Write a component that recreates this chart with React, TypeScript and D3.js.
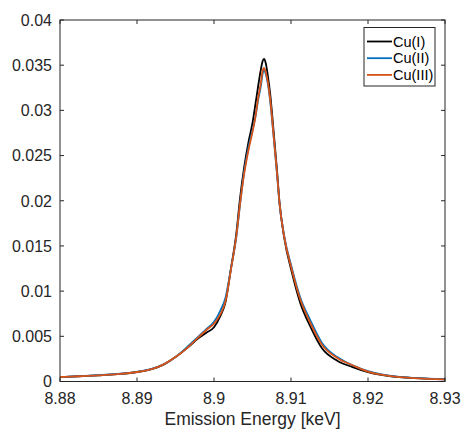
import React, { useEffect, useRef } from "react";
import * as d3 from "d3";

// emission energy grid (keV) shared by the three spectra
const energy = [
  8.88, 8.8825, 8.885, 8.8875, 8.89, 8.892, 8.8935, 8.895, 8.8965, 8.898,
  8.899, 8.9, 8.9008, 8.9015, 8.9022, 8.9029, 8.9034, 8.9039, 8.9045, 8.905,
  8.9054, 8.9057, 8.9061, 8.9063, 8.9065, 8.9067, 8.907, 8.9073, 8.9077,
  8.9082, 8.9085, 8.9091, 8.9101, 8.9112, 8.9125, 8.914, 8.916, 8.918, 8.92,
  8.923, 8.926, 8.93,
];

const cuI = [
  0.0005, 0.00058, 0.00068, 0.00082, 0.00105, 0.0014, 0.0019, 0.0027, 0.0037,
  0.0048, 0.0054, 0.006, 0.0072, 0.0088, 0.0125, 0.0164, 0.0204, 0.0236,
  0.0266, 0.0286, 0.0308, 0.0325, 0.0346, 0.0354, 0.0357, 0.0353, 0.0338,
  0.0318, 0.0281, 0.0232, 0.0199, 0.016, 0.0121, 0.0087, 0.0061, 0.0037,
  0.0023, 0.0016, 0.00105, 0.00058, 0.00037, 0.00024,
];

const cuII = [
  0.0005, 0.00059, 0.0007, 0.00084, 0.00107, 0.00142, 0.0019, 0.0027, 0.0038,
  0.005, 0.0058, 0.0066, 0.0078, 0.0093, 0.0125, 0.016, 0.0197, 0.0231,
  0.026, 0.0278, 0.0294, 0.031, 0.0328, 0.034, 0.0345, 0.0341, 0.0329, 0.031,
  0.0275, 0.0228, 0.0197, 0.0162, 0.0126, 0.0093, 0.0068, 0.0043, 0.0027,
  0.0018, 0.00115, 0.00062, 0.0004, 0.00025,
];

const cuIII = [
  0.0005, 0.00058, 0.00068, 0.00082, 0.00105, 0.0014, 0.0019, 0.0027, 0.0037,
  0.0049, 0.0057, 0.0064, 0.0074, 0.0089, 0.0124, 0.0161, 0.0198, 0.0229,
  0.0257, 0.0276, 0.0294, 0.0312, 0.0331, 0.0343, 0.0347, 0.0343, 0.0331,
  0.0312, 0.0276, 0.0229, 0.0198, 0.0161, 0.0124, 0.0091, 0.0065, 0.0041,
  0.0026, 0.0018, 0.0011, 0.0006, 0.00038, 0.00024,
];

const seriesNames = ["Cu(I)", "Cu(II)", "Cu(III)"];
const seriesColors = ["#000000", "#0072BD", "#D95319"];
const xTicks = [8.88, 8.89, 8.9, 8.91, 8.92, 8.93];
const yTicks = [0, 0.005, 0.01, 0.015, 0.02, 0.025, 0.03, 0.035, 0.04];

const W = 462;
const H = 430;
const margin = { top: 20, right: 17, bottom: 48.5, left: 60 };
const axisColor = "#262626";
const font = "'Liberation Sans', Arial, Helvetica, sans-serif";

const App = () => {
  const ref = useRef<SVGSVGElement>(null);

  useEffect(() => {
    const svg = d3.select(ref.current);
    svg.selectAll("*").remove();

    const width = W - margin.left - margin.right;
    const height = H - margin.top - margin.bottom;

    const g = svg
      .append("g")
      .attr("transform", "translate(" + margin.left + "," + margin.top + ")");

    const x = d3.scaleLinear().domain([8.88, 8.93]).range([0, width]);
    const y = d3.scaleLinear().domain([0, 0.04]).range([height, 0]);

    const allSeries = [cuI, cuII, cuIII];

    const line = d3
      .line<number>()
      .x((d, i) => x(energy[i]))
      .y((d) => y(d))
      .curve(d3.curveMonotoneX);

    allSeries.forEach((s, k) => {
      g.append("path")
        .datum(s)
        .attr("fill", "none")
        .attr("stroke", seriesColors[k])
        .attr("stroke-width", 1.8)
        .attr("stroke-linejoin", "round")
        .attr("d", line);
    });

    const tickLen = 4;

    // box
    g.append("rect")
      .attr("x", 0)
      .attr("y", 0)
      .attr("width", width)
      .attr("height", height)
      .attr("fill", "none")
      .attr("stroke", axisColor)
      .attr("stroke-width", 1);

    // x ticks (bottom + top, pointing in)
    xTicks.forEach((t) => {
      const px = x(t);
      g.append("line")
        .attr("x1", px).attr("x2", px)
        .attr("y1", height).attr("y2", height - tickLen)
        .attr("stroke", axisColor);
      g.append("line")
        .attr("x1", px).attr("x2", px)
        .attr("y1", 0).attr("y2", tickLen)
        .attr("stroke", axisColor);
      g.append("text")
        .attr("x", px)
        .attr("y", height + 22)
        .attr("text-anchor", "middle")
        .attr("fill", axisColor)
        .style("font-family", font)
        .style("font-size", "16px")
        .text(d3.format("")(t));
    });

    // y ticks (left + right)
    yTicks.forEach((t) => {
      const py = y(t);
      g.append("line")
        .attr("x1", 0).attr("x2", tickLen)
        .attr("y1", py).attr("y2", py)
        .attr("stroke", axisColor);
      g.append("line")
        .attr("x1", width).attr("x2", width - tickLen)
        .attr("y1", py).attr("y2", py)
        .attr("stroke", axisColor);
      g.append("text")
        .attr("x", -8)
        .attr("y", py)
        .attr("dy", "0.36em")
        .attr("text-anchor", "end")
        .attr("fill", axisColor)
        .style("font-family", font)
        .style("font-size", "16px")
        .text(d3.format("")(t));
    });

    g.append("text")
      .attr("x", width / 2)
      .attr("y", height + 43)
      .attr("text-anchor", "middle")
      .attr("fill", axisColor)
      .style("font-family", font)
      .style("font-size", "17.5px")
      .text("Emission Energy [keV]");

    // legend
    const lg = svg.append("g").attr("transform", "translate(364,27.5)");
    lg.append("rect")
      .attr("width", 71)
      .attr("height", 58.5)
      .attr("fill", "#fff")
      .attr("stroke", axisColor)
      .attr("stroke-width", 1);
    seriesNames.forEach((name, k) => {
      const ly = 14 + k * 16.7;
      lg.append("line")
        .attr("x1", 3).attr("x2", 28)
        .attr("y1", ly).attr("y2", ly)
        .attr("stroke", seriesColors[k])
        .attr("stroke-width", 1.8);
      lg.append("text")
        .attr("x", 29)
        .attr("y", ly)
        .attr("dy", "0.36em")
        .attr("fill", "#000")
        .style("font-family", font)
        .style("font-size", "14.5px")
        .text(name);
    });
  }, []);

  return (
    <svg
      ref={ref}
      width={W}
      height={H}
      style={{ position: "absolute", left: 0, top: 0, background: "#fff" }}
    />
  );
};

export default App;
